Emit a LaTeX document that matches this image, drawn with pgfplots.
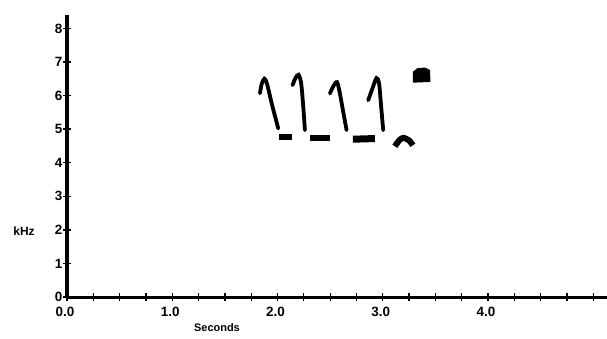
\documentclass[border=0pt]{standalone}
\usepackage{pgfplots}
\pgfplotsset{compat=1.18}
\usepackage{fontspec}
\setmainfont{Liberation Sans}
\begin{document}
\begin{tikzpicture}
\useasboundingbox (-67bp,-42bp) rectangle (540bp,297bp);
\begin{axis}[
  scale only axis, width=540bp, height=282bp,
  xmin=0, xmax=5.13, ymin=0, ymax=8.4,
  axis x line*=bottom, axis y line*=left,
  axis line style={line width=3bp,-},
  every outer x axis line/.append style={line width=3bp,-},
  every outer y axis line/.append style={line width=3.5bp,-},
  xtick={0,1,2,3,4}, xticklabels={0.0,1.0,2.0,3.0,4.0},
  minor xtick={0.25,0.5,0.75,1.25,1.5,1.75,2.25,2.5,2.75,3.25,3.5,3.75,4.25,4.5,4.75,5},
  ytick={0,1,2,3,4,5,6,7,8},
  tick align=center,
  major tick length=8bp, minor tick length=8bp,
  major tick style={black, line width=1.3bp},
  minor tick style={black, line width=1.3bp},
  /pgf/number format/assume math mode=true,
  tick label style={font=\bfseries\fontsize{13.5}{13.5}\selectfont},
  xticklabel style={yshift=-3bp, xshift=-2bp},
  yticklabel style={xshift=3bp},
  clip=false,
]
% notes (seconds, kHz)
\addplot[black, line width=3.8bp, smooth, tension=0.5, line cap=round] coordinates {(1.833,6.07) (1.850,6.35) (1.875,6.50) (1.900,6.35) (1.950,5.70) (2.007,5.02)};
\addplot[black, line width=3.8bp, smooth, tension=0.5, line cap=round] coordinates {(2.143,6.31) (2.170,6.52) (2.200,6.62) (2.225,6.35) (2.245,5.65) (2.260,4.97)};
\addplot[black, line width=3.8bp, smooth, tension=0.5, line cap=round] coordinates {(2.498,6.06) (2.530,6.28) (2.565,6.40) (2.590,6.10) (2.625,5.50) (2.656,4.97)};
\addplot[black, line width=3.8bp, smooth, tension=0.5, line cap=round] coordinates {(2.861,5.86) (2.900,6.20) (2.940,6.52) (2.965,6.35) (2.985,5.65) (3.004,4.97)};
% short low elements
\addplot[black, line width=6bp] coordinates {(2.013,4.76) (2.137,4.76)};
\addplot[black, line width=6bp] coordinates {(2.308,4.73) (2.498,4.73)};
\addplot[black, line width=7bp] coordinates {(2.716,4.70) (2.925,4.72)};
\addplot[black, line width=6bp, smooth] coordinates {(3.115,4.49) (3.160,4.68) (3.200,4.74) (3.250,4.66) (3.286,4.52)};
% final high element
\addplot[black, fill=black, line width=1bp] coordinates {(3.290,6.40) (3.290,6.70) (3.330,6.80) (3.400,6.82) (3.445,6.75) (3.447,6.42) (3.290,6.40)};
\node[font=\bfseries\fontsize{12}{12}\selectfont] at ([xshift=-43bp]axis cs:0,1.95) {kHz};
\node[font=\bfseries\fontsize{11}{11}\selectfont] at ([yshift=-31bp]axis cs:1.425,0) {Seconds};
\end{axis}
\end{tikzpicture}
\end{document}
